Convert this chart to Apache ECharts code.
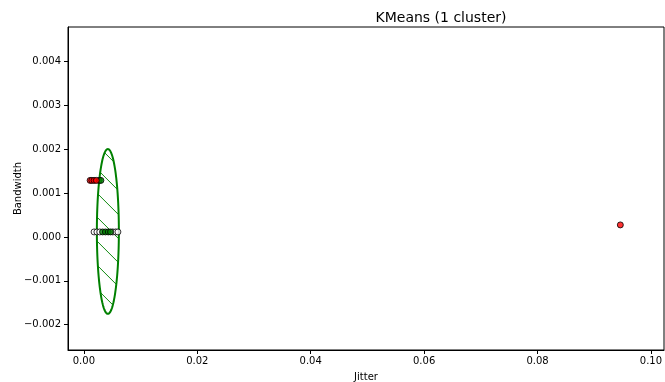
<!DOCTYPE html>
<html><head><meta charset="utf-8">
<script src="https://cdn.jsdelivr.net/npm/echarts@6/dist/echarts.min.js"></script>
<style>html,body{margin:0;padding:0;background:#fff}#c{width:665px;height:382px}</style>
</head><body><div id="c"></div>
<script>
const chartTitle = 'KMeans (1 cluster)';
const xName = 'Jitter';
const yName = 'Bandwidth';
const xTicks = [0, 0.02, 0.04, 0.06, 0.08, 0.10];
const yTicks = [-0.002, -0.001, 0, 0.001, 0.002, 0.003, 0.004];
const xRange = [-0.0028, 0.1023];
const yRange = [-0.00258, 0.00479];
// anomalies (red)
const anomalyPts = [[0.0011, 0.00129], [0.0014, 0.00129], [0.0018, 0.00129], [0.0022, 0.00129], [0.0946, 0.000274]];
// cluster members (green)
const clusterPts = [[0.0027, 0.00129], [0.0030, 0.00129], [0.0033, 0.000114], [0.0038, 0.000114], [0.0043, 0.000114], [0.0047, 0.000114]];
// other points (hollow)
const otherPts = [[0.0018, 0.000114], [0.0023, 0.000114], [0.0028, 0.000114], [0.0051, 0.000114], [0.0056, 0.000114], [0.0060, 0.000114]];
// ellipse: centre x, centre y, semi-axis x, semi-axis y
const ellipseData = [[0.00423, 0.000125, 0.00194, 0.00188]];

const FONT = '"DejaVu Sans", sans-serif';
const chart = echarts.init(document.getElementById('c'), null, {renderer: 'canvas'});

function renderEllipse(params, api) {
  const c = api.coord([api.value(0), api.value(1)]);
  const s = api.size([api.value(2), api.value(3)]);
  const a = s[0], b = s[1];
  const children = [];
  const sp = 24, phase = -75.5;
  const A = 1 / (a * a) + 1 / (b * b);
  for (let k = -10; k <= 10; k++) {
    const d = phase + k * sp;
    const B = 2 * d / (b * b), C = d * d / (b * b) - 1;
    const disc = B * B - 4 * A * C;
    if (disc <= 0) continue;
    const u1 = (-B - Math.sqrt(disc)) / (2 * A), u2 = (-B + Math.sqrt(disc)) / (2 * A);
    children.push({type: 'line', shape: {x1: c[0] + u1, y1: c[1] + u1 + d, x2: c[0] + u2, y2: c[1] + u2 + d},
      style: {stroke: '#108a10', fill: null, lineWidth: 1}});
  }
  const pts = [];
  for (let i = 0; i <= 144; i++) {
    const t = i / 144 * Math.PI * 2;
    pts.push([c[0] + a * Math.cos(t), c[1] + b * Math.sin(t)]);
  }
  children.push({type: 'polygon', shape: {points: pts}, style: {fill: 'none', stroke: '#008000', lineWidth: 2}});
  return {type: 'group', children};
}

const pointStyle = (fill) => ({color: fill, borderColor: '#000', borderWidth: 1});
const axisTxt = {fontFamily: FONT, fontSize: 10, color: '#000'};

chart.setOption({
  animation: false,
  backgroundColor: '#fff',
  title: {text: chartTitle, left: 436, top: 6, textAlign: 'center',
    textStyle: {fontFamily: FONT, fontSize: 14, fontWeight: 'normal', color: '#000'}},
  grid: {left: 68, right: 1, top: 27, bottom: 32, containLabel: false, outerBoundsMode: 'none',
    show: true, borderColor: '#000', borderWidth: 1, backgroundColor: 'transparent'},
  xAxis: {
    type: 'value', min: xRange[0], max: xRange[1],
    name: xName, nameLocation: 'middle', nameGap: 22, nameTextStyle: axisTxt, nameMoveOverlap: false,
    axisLine: {show: true, onZero: false, lineStyle: {color: '#000', width: 1}}, splitLine: {show: false},
    axisTick: {show: true, length: 4, customValues: xTicks, lineStyle: {color: '#000'}},
    axisLabel: Object.assign({customValues: xTicks, margin: 6, formatter: v => v.toFixed(2)}, axisTxt)
  },
  yAxis: {
    type: 'value', min: yRange[0], max: yRange[1],
    name: yName, nameLocation: 'middle', nameGap: 45, nameRotate: 90, nameTextStyle: axisTxt, nameMoveOverlap: false,
    axisLine: {show: true, onZero: false, lineStyle: {color: '#000', width: 1}}, splitLine: {show: false},
    axisTick: {show: true, length: 4, customValues: yTicks, lineStyle: {color: '#000'}},
    axisLabel: Object.assign({customValues: yTicks, margin: 7,
      formatter: v => (v < 0 ? '\u2212' : '') + Math.abs(v).toFixed(3)}, axisTxt)
  },
  series: [
    {type: 'custom', renderItem: renderEllipse, data: ellipseData, z: 2, silent: true, itemStyle: {color: '#008000'}},
    {type: 'scatter', data: otherPts, symbolSize: 6, itemStyle: pointStyle('#ffffff'), z: 3},
    {type: 'scatter', data: clusterPts, symbolSize: 6, itemStyle: pointStyle('#008000'), z: 3},
    {type: 'scatter', data: anomalyPts, symbolSize: 6, itemStyle: pointStyle('#ff0000'), z: 3}
  ]
});
</script></body></html>
